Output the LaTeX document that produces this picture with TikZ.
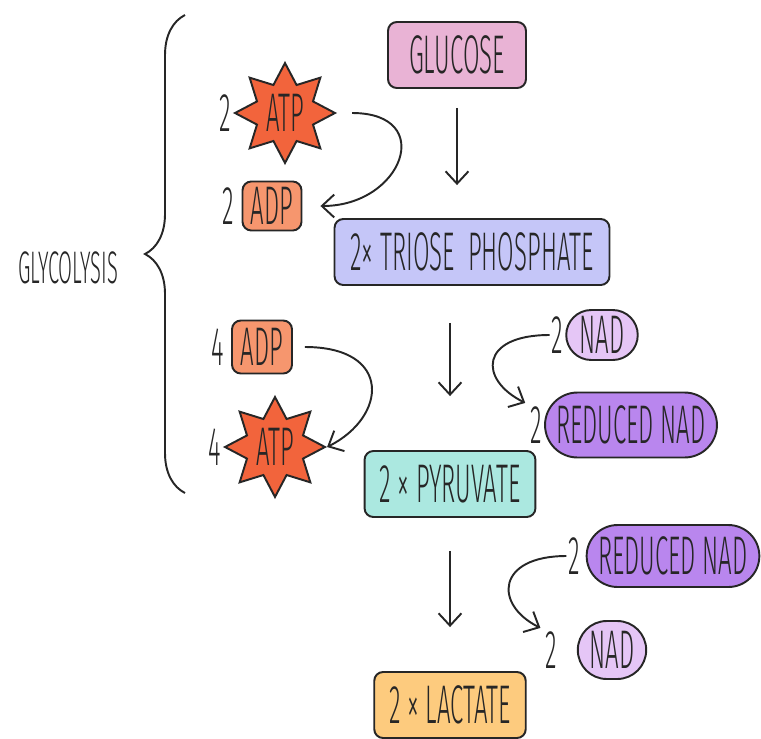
\documentclass[tikz,border=0pt]{standalone}
\usepackage{fontspec}
\setmainfont{Fira Sans}[UprightFont={* Light}, FakeStretch=0.44]
\usetikzlibrary{positioning,shapes.geometric,shapes.misc,arrows.meta,decorations.pathreplacing}

\definecolor{inkgrey}{HTML}{262626}
\definecolor{glucosepink}{HTML}{E9B3D5}
\definecolor{trioseblue}{HTML}{C5C6F8}
\definecolor{pyruvateteal}{HTML}{ABE8E0}
\definecolor{lactateorange}{HTML}{FDCB7E}
\definecolor{atpred}{HTML}{F2643C}
\definecolor{adpsalmon}{HTML}{F6966E}
\definecolor{nadlilac}{HTML}{E5C6F6}
\definecolor{rnadpurple}{HTML}{B986EE}

\begin{document}
\begin{tikzpicture}[x=0.02cm, y=-0.02cm,
    every node/.style={font=\fontsize{31}{33}\selectfont, text=inkgrey},
    box/.style={draw=inkgrey, line width=1.1pt, rounded corners=5pt, minimum height=1.32cm, inner xsep=0.3cm},
    pill/.style={draw=inkgrey, line width=1.1pt, rounded rectangle, minimum height=1.2cm, inner xsep=0.1cm},
    burst/.style={draw=inkgrey, line width=1.1pt, star, star points=8, star point ratio=1.65, minimum size=2.0cm, inner sep=0pt, fill=atpred},
    coef/.style={inner sep=1pt},
    flow/.style={draw=inkgrey, line width=1.1pt, -{Straight Barb[length=7pt,width=13pt]}}]
    \useasboundingbox (0,0) rectangle (761,738);

    % Glycolysis bracket
    \draw[inkgrey, line width=1.1pt, decorate, decoration={brace, amplitude=0.8cm}] (185,493) -- (185,15);
    \node[font=\fontsize{26}{28}\selectfont] (glyco) at (68,268) {GLYCOLYSIS};

    % Main pathway
    \node[box, fill=glucosepink, minimum width=2.76cm] (glucose) at (457,55) {GLUCOSE};
    \node[box, fill=trioseblue, minimum width=5.5cm] (triose) at (472,252) {2× TRIOSE\ \ PHOSPHATE};
    \node[box, fill=pyruvateteal, minimum width=3.3cm] (pyruvate) at (450,484) {2 × PYRUVATE};
    \node[box, fill=lactateorange, minimum width=2.7cm] (lactate) at (450,705) {2 × LACTATE};

    \draw[flow, shorten <=0.38cm, shorten >=0.66cm] (glucose.south) -- (glucose.south |- triose.north);
    \draw[flow, shorten <=0.74cm, shorten >=1.08cm] (pyruvate.north |- triose.south) -- (pyruvate.north);
    \draw[flow, shorten <=0.66cm, shorten >=0.88cm] (pyruvate.south) -- (lactate.north);

    % ATP used
    \node[burst] (atpA) at (285,113) {ATP};
    \node[coef, left=0pt of atpA] (atpAn) {2};
    \node[box, fill=adpsalmon, minimum height=0.96cm, minimum width=1.18cm, inner xsep=0.1cm] (adpA) at (272,206) {ADP};
    \node[coef, left=3pt of adpA] (adpAn) {2};
    \draw[flow, shorten <=0.3cm, shorten >=0.36cm] (atpA.east) .. controls +(100,0) and +(100,0) .. (adpA.east);

    % ATP made
    \node[box, fill=adpsalmon, minimum height=1.06cm, minimum width=1.2cm, inner xsep=0.1cm] (adpB) at (262,347) {ADP};
    \node[coef, left=3pt of adpB] (adpBn) {4};
    \node[burst] (atpB) at (275,447) {ATP};
    \node[coef, left=0pt of atpB] (atpBn) {4};
    \draw[flow, shorten <=0.24cm] (adpB.east) .. controls +(100,0) and +(60,-30) .. (atpB.east);

    % NAD reduced
    \node[pill, fill=nadlilac, minimum height=1.0cm] (nadA) at (602,335) {NAD};
    \node[coef, left=0pt of nadA] (nadAn) {2};
    \node[pill, fill=rnadpurple, minimum height=1.3cm] (rnadA) at (631,425) {REDUCED NAD};
    \node[coef, left=0pt of rnadA] (rnadAn) {2};
    \draw[flow, shorten >=2pt] (nadAn.west) .. controls +(-70,0) and +(-50,-25) .. (rnadAn.north west);

    % NAD regenerated
    \node[pill, fill=rnadpurple, minimum height=1.24cm] (rnadB) at (673,556) {REDUCED NAD};
    \node[coef, left=2pt of rnadB] (rnadBn) {2};
    \node[pill, fill=nadlilac, minimum height=1.16cm] (nadB) at (612,650) {NAD};
    \node[coef, left=10pt of nadB] (nadBn) {2};
    \draw[flow, shorten >=2pt] (rnadBn.west) .. controls +(-70,0) and +(-50,-25) .. (nadBn.north west);
\end{tikzpicture}
\end{document}
